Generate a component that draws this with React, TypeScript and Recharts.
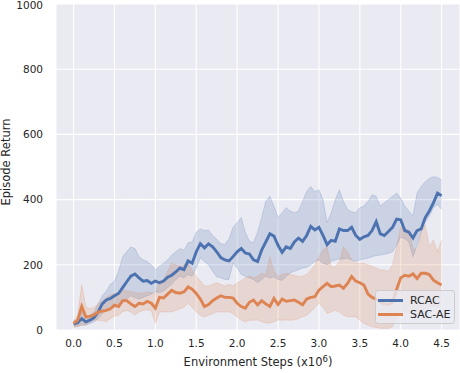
import {
  Area,
  CartesianGrid,
  ComposedChart,
  Customized,
  Legend,
  Line,
  XAxis,
  YAxis,
} from "recharts"

const steps = [
  0.0, 0.05, 0.1, 0.15, 0.2, 0.25, 0.3, 0.35, 0.4, 0.45,
  0.5, 0.55, 0.6, 0.65, 0.7, 0.75, 0.8, 0.85, 0.9, 0.95,
  1.0, 1.05, 1.1, 1.15, 1.2, 1.25, 1.3, 1.35, 1.4, 1.45,
  1.5, 1.55, 1.6, 1.65, 1.7, 1.75, 1.8, 1.85, 1.9, 1.95,
  2.0, 2.05, 2.1, 2.15, 2.2, 2.25, 2.3, 2.35, 2.4, 2.45,
  2.5, 2.55, 2.6, 2.65, 2.7, 2.75, 2.8, 2.85, 2.9, 2.95,
  3.0, 3.05, 3.1, 3.15, 3.2, 3.25, 3.3, 3.35, 3.4, 3.45,
  3.5, 3.55, 3.6, 3.65, 3.7, 3.75, 3.8, 3.85, 3.9, 3.95,
  4.0, 4.05, 4.1, 4.15, 4.2, 4.25, 4.3, 4.35, 4.4, 4.45, 4.5,
]

const rcacMean = [
  18, 22, 35, 25, 30, 38, 55, 80, 92, 97,
  105, 112, 130, 148, 165, 172, 160, 150, 152, 143,
  150, 145, 150, 162, 168, 178, 190, 185, 212, 205,
  240, 265, 252, 264, 255, 240, 222, 215, 212, 225,
  240, 250, 236, 233, 215, 210, 245, 270, 295, 288,
  260, 238, 255, 250, 270, 282, 272, 290, 318, 307,
  315, 290, 262, 275, 272, 310, 305, 305, 315, 290,
  278, 286, 290, 305, 332, 295, 290, 302, 315, 340,
  338, 305, 300, 282, 305, 310, 345, 365, 390, 420, 412,
]
const rcacHigh = [
  28, 32, 55, 40, 45, 55, 80, 105, 120, 140,
  150, 180, 225, 240, 255, 250, 225, 215, 210, 200,
  184, 195, 205, 215, 230, 240, 250, 245, 268, 270,
  300, 310, 305, 307, 290, 278, 265, 262, 280, 315,
  330, 345, 300, 272, 268, 300, 345, 395, 410, 380,
  345, 360, 375, 365, 360, 365, 395, 425, 440, 425,
  430, 400, 330, 360, 400, 430, 395, 370, 363, 360,
  375, 380, 395, 415, 410, 380, 390, 400, 410, 420,
  405, 380, 365, 350, 420, 440, 455, 465, 470, 468, 460,
]
const rcacLow = [
  10, 12, 15, 15, 20, 25, 35, 50, 60, 65,
  70, 75, 85, 95, 105, 100, 95, 100, 105, 110,
  117, 115, 120, 130, 140, 155, 165, 160, 170, 165,
  190, 222, 210, 200, 180, 163, 160, 155, 155, 205,
  190, 170, 165, 160, 155, 145, 155, 165, 160, 163,
  155, 152, 165, 175, 180, 185, 190, 192, 200, 210,
  215, 205, 200, 210, 215, 218, 218, 220, 215, 210,
  215, 218, 220, 225, 228, 230, 232, 235, 240, 260,
  285, 280, 270, 225, 260, 300, 330, 350, 375, 385, 370,
]

const sacMean = [
  20, 30, 72, 40, 42, 46, 55, 58, 60, 65,
  76, 72, 90, 90, 80, 72, 82, 80, 88, 82,
  67, 100, 98, 110, 122, 115, 113, 117, 132, 125,
  112, 95, 72, 78, 90, 98, 105, 100, 100, 98,
  82, 72, 67, 85, 92, 77, 90, 80, 72, 97,
  78, 95, 88, 90, 92, 85, 77, 95, 100, 102,
  122, 133, 143, 133, 135, 138, 128, 143, 164, 150,
  145, 138, 110, 100, 95, 85, 80, 78, 85, 125,
  160, 168, 165, 172, 158, 174, 174, 170, 153, 145, 138,
]
const sacHigh = [
  30, 45, 140, 70, 65, 70, 80, 90, 100, 107,
  112, 115, 123, 120, 118, 115, 113, 113, 117, 115,
  110, 150, 153, 180, 205, 200, 195, 200, 205, 185,
  165, 150, 135, 135, 140, 145, 140, 135, 140, 135,
  145, 150, 160, 165, 160, 165, 174, 170, 225, 180,
  165, 170, 174, 170, 168, 164, 165, 170, 184, 200,
  225, 245, 255, 194, 194, 210, 255, 240, 215, 205,
  205, 205, 200, 195, 190, 184, 184, 180, 200, 255,
  317, 310, 307, 250, 245, 297, 322, 255, 276, 240, 276,
]
const sacLow = [
  8, 10, 15, 15, 25, 30, 30, 28, 25, 35,
  42, 45, 56, 60, 55, 45, 55, 60, 62, 60,
  20, 55, 56, 55, 56, 60, 65, 70, 82, 70,
  55, 45, 40, 45, 50, 56, 55, 55, 56, 50,
  40, 30, 25, 30, 30, 31, 25, 22, 21, 25,
  31, 30, 31, 30, 31, 35, 41, 45, 56, 70,
  82, 70, 51, 55, 61, 55, 45, 41, 41, 41,
  30, 20, 15, 10, 8, 5, 5, 5, 10, 40,
  60, 55, 55, 60, 55, 60, 65, 70, 75, 70, 80,
]

const xTicks = [0, 0.5, 1, 1.5, 2, 2.5, 3, 3.5, 4, 4.5]
const yTicks = [0, 200, 400, 600, 800, 1000]

const BLUE = "#4C72B0"
const ORANGE = "#DD8452"
const TEXT = "#262626"
const FONT = "DejaVu Sans, sans-serif"

const data = steps.map((step, i) => ({
  step,
  rcac: rcacMean[i],
  rcacBand: [rcacLow[i], rcacHigh[i]],
  sac: sacMean[i],
  sacBand: [sacLow[i], sacHigh[i]],
}))

const legendItems = [
  { name: "RCAC", color: BLUE },
  { name: "SAC-AE", color: ORANGE },
]

function LegendBox() {
  return (
    <div
      style={{
        width: 80,
        height: 34,
        boxSizing: "border-box",
        border: "1px solid #cccccc",
        borderRadius: 3,
        background: "rgba(234,234,242,0.8)",
        fontFamily: FONT,
        fontSize: 11,
        color: TEXT,
        padding: "2px 0 0 2px",
      }}
    >
      {legendItems.map((item) => (
        <div key={item.name} style={{ display: "flex", alignItems: "center", height: 14.5 }}>
          <span style={{ display: "inline-block", width: 25, height: 3, background: item.color, marginRight: 7 }} />
          <span>{item.name}</span>
        </div>
      ))}
    </div>
  )
}

function AxisTitles() {
  return (
    <g fontFamily={FONT} fill={TEXT} fontSize={11.5}>
      <text x={258} y={366} textAnchor="middle">
        Environment Steps (x10
        <tspan dy={-4} fontSize={8.5}>6</tspan>
        <tspan dy={4}>)</tspan>
      </text>
      <text x={10} y={162} textAnchor="middle" transform="rotate(-90 10 162)">
        Episode Return
      </text>
    </g>
  )
}

export default function App() {
  return (
    <div style={{ position: "absolute", left: 0, top: 0 }}>
      <style>{`body{margin:0}`}</style>
      <ComposedChart width={460} height={373} data={data} margin={{ top: 4, right: 0, bottom: 0, left: 0 }}>
        <CartesianGrid fill="#EAEAF2" stroke="#ffffff" strokeWidth={1.1} />
        <XAxis
          dataKey="step"
          type="number"
          domain={[-0.215, 4.725]}
          ticks={xTicks}
          tickFormatter={(v) => v.toFixed(1)}
          allowDataOverflow
          height={43}
          tickLine={false}
          axisLine={false}
          tickMargin={4}
          tick={{ fill: TEXT, fontSize: 10.5, fontFamily: FONT }}
        />
        <YAxis
          type="number"
          domain={[0, 1000]}
          ticks={yTicks}
          allowDataOverflow
          width={56}
          tickLine={false}
          axisLine={false}
          tickMargin={7}
          tick={{ fill: TEXT, fontSize: 10.5, fontFamily: FONT }}
        />
        <Area
          dataKey="rcacBand"
          stroke={BLUE}
          strokeOpacity={0.2}
          fill={BLUE}
          fillOpacity={0.2}
          isAnimationActive={false}
          activeDot={false}
        />
        <Line
          dataKey="rcac"
          stroke={BLUE}
          strokeWidth={2.9}
          dot={false}
          isAnimationActive={false}
        />
        <Area
          dataKey="sacBand"
          stroke={ORANGE}
          strokeOpacity={0.2}
          fill={ORANGE}
          fillOpacity={0.2}
          isAnimationActive={false}
          activeDot={false}
        />
        <Line
          dataKey="sac"
          stroke={ORANGE}
          strokeWidth={2.9}
          dot={false}
          isAnimationActive={false}
        />
        <Legend
          layout="horizontal"
          verticalAlign="middle"
          content={() => <LegendBox />}
          wrapperStyle={{ position: "absolute", left: 375, top: 290, width: 80, height: 34 }}
        />
        <Customized component={AxisTitles} />
      </ComposedChart>
    </div>
  )
}
